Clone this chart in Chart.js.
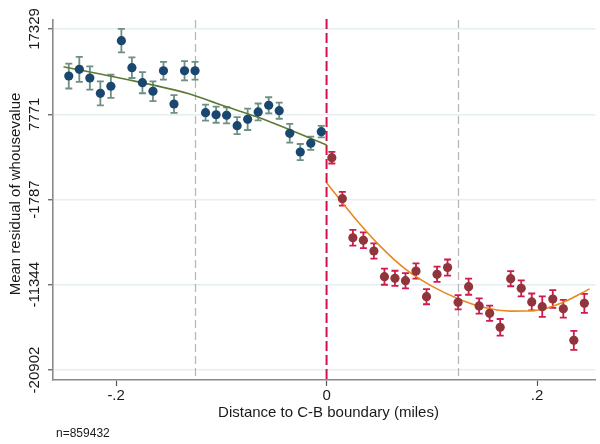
<!DOCTYPE html>
<html lang="en">
<head>
    <meta charset="UTF-8">
    <title>RD plot - whousevalue</title>
    <script src="https://cdn.jsdelivr.net/npm/chart.js"></script>
    <style>
        body { margin: 0; background: #fff; }
        .wrap { width: 600px; height: 444px; position: relative; }
    </style>
</head>
<body>
    <div class="wrap"><canvas id="rdChart"></canvas></div>

    <script>
        // bin centres (miles) and bin means
        const xLeft = [-0.245, -0.235, -0.225, -0.215, -0.205, -0.195, -0.185, -0.175, -0.165, -0.155, -0.145, -0.135, -0.125,
                       -0.115, -0.105, -0.095, -0.085, -0.075, -0.065, -0.055, -0.045, -0.035, -0.025, -0.015, -0.005];
        const yLeft = [12060, 12810, 11840, 10120, 10910, 16020, 12990, 11310, 10350, 12650, 8920, 12650, 12650,
                       7950, 7720, 7660, 6490, 7210, 8030, 8780, 8170, 5640, 3540, 4520, 5820];
        const errLeft = [1400, 1400, 1310, 1350, 1290, 1320, 1150, 1180, 1100, 1000, 1000, 1080, 1000,
                         900, 900, 900, 950, 1200, 950, 900, 900, 1050, 900, 750, 650];

        const xRight = [0.005, 0.015, 0.025, 0.035, 0.045, 0.055, 0.065, 0.075, 0.085, 0.095, 0.105, 0.115, 0.125,
                        0.135, 0.145, 0.155, 0.165, 0.175, 0.185, 0.195, 0.205, 0.215, 0.225, 0.235, 0.245];
        const yRight = [2900, -1690, -6070, -6360, -7560, -10440, -10620, -10890, -9800, -12680, -10170, -9410, -13310,
                        -11560, -13720, -14540, -16110, -10660, -11740, -13270, -13800, -12940, -14030, -17570, -13420];
        const errRight = [650, 770, 880, 880, 850, 900, 850, 850, 850, 850, 850, 900, 800,
                          900, 850, 850, 930, 850, 900, 950, 1150, 1000, 1000, 1065, 1065];

        // fitted curves
        const fitLeftX = [-0.25, -0.2, -0.13, -0.1, -0.065, 0];
        const fitLeftY = [13100, 11920, 10040, 8800, 7430, 4330];
        const fitRightX = [0, 0.025, 0.05, 0.075, 0.1, 0.125, 0.15, 0.175, 0.2, 0.225, 0.25];
        const fitRightY = [100, -3600, -6900, -9600, -11500, -12900, -13900, -14300, -14200, -13300, -11800];

        const yTicks = [-20902, -11344, -1787, 7771, 17329];
        const xTicks = [-0.2, 0, 0.2];
        const xTickLabels = ['-.2', '0', '.2'];
        const cutoffs = [-0.125, 0.125];

        const FONT = '"Liberation Sans", Arial, sans-serif';

        function pts(xs, ys) {
            return xs.map((x, i) => ({x: x, y: ys[i]}));
        }

        // error bars + reference lines under the markers
        const underlay = {
            id: 'underlay',
            beforeDatasetsDraw(chart) {
                const ctx = chart.ctx;
                const xs = chart.scales.x, ys = chart.scales.y;
                const top = chart.chartArea.top, bottom = chart.chartArea.bottom;
                ctx.save();

                // grey dashed lines
                ctx.strokeStyle = '#b4b4b4';
                ctx.lineWidth = 1.2;
                ctx.setLineDash([8, 4]);
                cutoffs.forEach(c => {
                    const px = Math.round(xs.getPixelForValue(c)) + 0.5;
                    ctx.beginPath(); ctx.moveTo(px, top); ctx.lineTo(px, bottom); ctx.stroke();
                });

                // red dashed cutoff at 0
                ctx.strokeStyle = '#d4124a';
                ctx.lineWidth = 2;
                ctx.setLineDash([10, 4]);
                const p0 = xs.getPixelForValue(0);
                ctx.beginPath(); ctx.moveTo(p0, top - 1); ctx.lineTo(p0, bottom); ctx.stroke();
                ctx.setLineDash([]);

                function caps(xArr, yArr, eArr, color) {
                    ctx.strokeStyle = color;
                    ctx.lineWidth = 1.8;
                    xArr.forEach((x, i) => {
                        const px = xs.getPixelForValue(x);
                        const hi = ys.getPixelForValue(yArr[i] + eArr[i]);
                        const lo = ys.getPixelForValue(yArr[i] - eArr[i]);
                        ctx.beginPath();
                        ctx.moveTo(px, hi); ctx.lineTo(px, lo);
                        ctx.moveTo(px - 3.5, hi); ctx.lineTo(px + 3.5, hi);
                        ctx.moveTo(px - 3.5, lo); ctx.lineTo(px + 3.5, lo);
                        ctx.stroke();
                    });
                }
                caps(xLeft, yLeft, errLeft, '#6e8f84');
                caps(xRight, yRight, errRight, '#d01a4c');
                ctx.restore();
            }
        };

        // text drawn by hand so the rotated y labels sit on their ticks
        const labels = {
            id: 'labels',
            afterDraw(chart) {
                const ctx = chart.ctx;
                const xs = chart.scales.x, ys = chart.scales.y;
                ctx.save();
                ctx.fillStyle = '#1a1a1a';
                ctx.font = '15px ' + FONT;
                ctx.textAlign = 'center';
                ctx.textBaseline = 'middle';

                yTicks.forEach(v => {
                    ctx.save();
                    ctx.translate(35, ys.getPixelForValue(v));
                    ctx.rotate(-Math.PI / 2);
                    ctx.fillText(String(v), 0, 0);
                    ctx.restore();
                });

                ctx.save();
                ctx.translate(16, (chart.chartArea.top + chart.chartArea.bottom) / 2 - 6);
                ctx.rotate(-Math.PI / 2);
                ctx.fillText('Mean residual of whousevalue', 0, 0);
                ctx.restore();

                xTicks.forEach((v, i) => {
                    ctx.fillText(xTickLabels[i], xs.getPixelForValue(v), 396);
                });
                ctx.fillText('Distance to C-B boundary (miles)', 328.5, 413);

                ctx.font = '12px ' + FONT;
                ctx.textAlign = 'left';
                ctx.fillText('n=859432', 56, 434);
                ctx.restore();
            }
        };

        new Chart(document.getElementById('rdChart'), {
            type: 'scatter',
            data: {
                datasets: [
                    {
                        data: pts(fitLeftX, fitLeftY),
                        showLine: true,
                        borderColor: '#5b7a36',
                        borderWidth: 1.6,
                        pointRadius: 0,
                        cubicInterpolationMode: 'monotone',
                        order: 3
                    },
                    {
                        data: pts(fitRightX, fitRightY),
                        showLine: true,
                        borderColor: '#e8891f',
                        borderWidth: 1.6,
                        pointRadius: 0,
                        cubicInterpolationMode: 'monotone',
                        order: 3
                    },
                    {
                        data: pts(xLeft, yLeft),
                        backgroundColor: '#1a476f',
                        borderColor: '#1a476f',
                        borderWidth: 0,
                        pointRadius: 4.6,
                        order: 1
                    },
                    {
                        data: pts(xRight, yRight),
                        backgroundColor: '#90353b',
                        borderColor: '#90353b',
                        borderWidth: 0,
                        pointRadius: 4.6,
                        order: 1
                    }
                ]
            },
            options: {
                responsive: true,
                maintainAspectRatio: false,
                animation: false,
                events: [],
                layout: { padding: { top: 20, right: 0, left: 0, bottom: 0 } },
                plugins: {
                    legend: { display: false },
                    tooltip: { enabled: false }
                },
                scales: {
                    x: {
                        type: 'linear',
                        min: -0.26,
                        max: 0.2555,
                        afterBuildTicks: s => { s.ticks = xTicks.map(v => ({value: v})); },
                        afterFit: s => { s.height = 64; },
                        ticks: { display: false },
                        grid: { drawOnChartArea: false, drawTicks: true, tickLength: 6, tickColor: '#555', tickWidth: 1.2 },
                        border: { color: '#8a8a8a', width: 1.6 }
                    },
                    y: {
                        type: 'linear',
                        min: -22020,
                        max: 18340,
                        afterBuildTicks: s => { s.ticks = yTicks.map(v => ({value: v})); },
                        afterFit: s => { s.width = 53; },
                        ticks: { display: false },
                        grid: { color: '#e6eef2', lineWidth: 1.5, drawTicks: true, tickLength: 5, tickColor: '#555', tickWidth: 1.2 },
                        border: { color: '#8a8a8a', width: 1.6 }
                    }
                }
            },
            plugins: [underlay, labels]
        });
    </script>
</body>
</html>
